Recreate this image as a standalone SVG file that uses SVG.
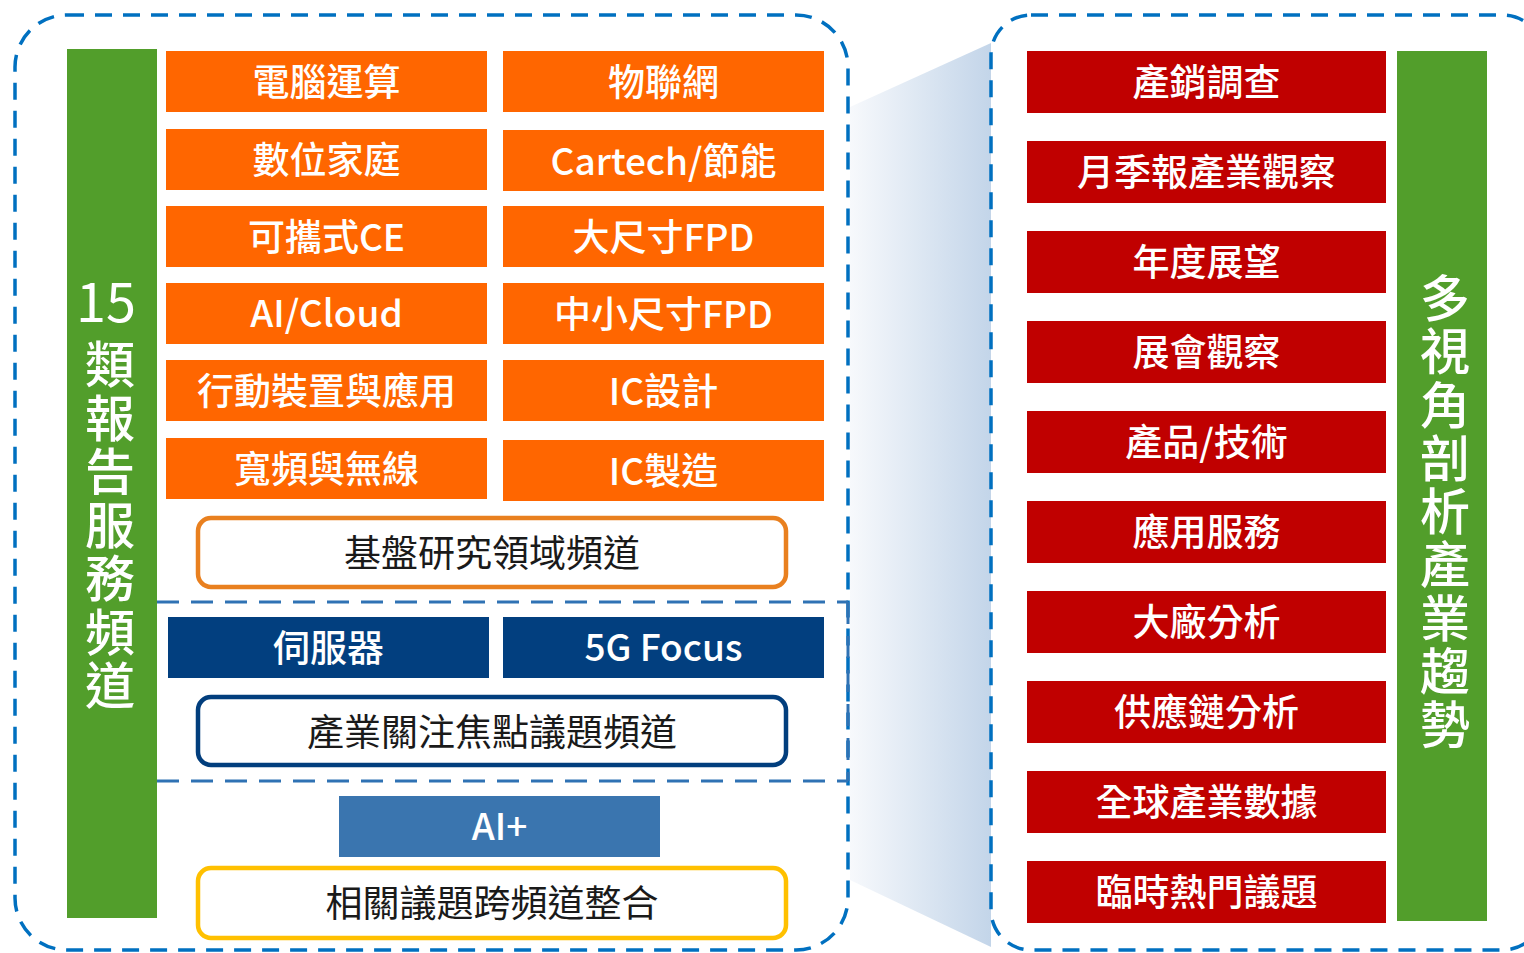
<svg xmlns="http://www.w3.org/2000/svg" width="1524" height="953" viewBox="0 0 1524 953">
<defs>
<linearGradient id="zoomGrad" x1="0" y1="0" x2="1" y2="0">
<stop offset="0" stop-color="#F7F9FC"/>
<stop offset="1" stop-color="#C3D5E9"/>
</linearGradient>
<style>
.t{font-family:"Noto Sans CJK TC","Noto Sans",sans-serif;text-anchor:middle}
.w{fill:#FFFFFF;font-size:37px;font-weight:500}
.k{fill:#1A1A1A;font-size:37px;font-weight:400}
.v{fill:#FFFFFF;font-size:50px;font-weight:500;font-family:"Noto Sans CJK TC","Noto Sans",sans-serif}
.vert{writing-mode:vertical-rl;text-anchor:start}
.org{fill:#FF6600}
.red{fill:#C00000}
.navy{fill:#023F7F}
.mid{fill:#3A75AF}
.grn{fill:#529E2B}
.frame{fill:none;stroke:#0070C0;stroke-width:3.5;stroke-dasharray:17 11}
.inner{fill:none;stroke:#2F72B4;stroke-width:3;stroke-dasharray:22 12}
.ch{fill:#FFFFFF;stroke-width:4.5}
</style>
</defs>
<rect width="1524" height="953" fill="#FFFFFF"/>

<g id="connectors">
<polygon id="zoom-link" points="850,107 991,43 991,947 850,880" fill="url(#zoomGrad)"/>
</g>

<g id="left-frame">
<rect class="frame" x="15" y="15" width="833" height="935" rx="52" ry="52"/>
</g>
<g id="right-frame">
<rect class="frame" x="991" y="15" width="552" height="935" rx="40" ry="40"/>
</g>

<g id="left-title">
<rect class="grn" x="67" y="49" width="90" height="869"/>
<text class="t v" x="106" y="322" style="font-weight:400;font-size:54px">15</text>
<text class="v vert" x="110" y="339" letter-spacing="3.5">類報告服務頻道</text>
</g>

<g id="n-computing"><rect class="org" x="166" y="51" width="321" height="61"/><text class="t w" x="326.5" y="95.5">電腦運算</text></g>
<g id="n-iot"><rect class="org" x="503" y="51" width="321" height="61"/><text class="t w" x="663.5" y="95.5">物聯網</text></g>
<g id="n-digitalhome"><rect class="org" x="166" y="129" width="321" height="61"/><text class="t w" x="326.5" y="173.5">數位家庭</text></g>
<g id="n-cartech"><rect class="org" x="503" y="130" width="321" height="61"/><text class="t w" x="663.5" y="174.5">Cartech/節能</text></g>
<g id="n-portable"><rect class="org" x="166" y="206" width="321" height="61"/><text class="t w" x="326.5" y="250.5">可攜式CE</text></g>
<g id="n-largefpd"><rect class="org" x="503" y="206" width="321" height="61"/><text class="t w" x="663.5" y="250.5">大尺寸FPD</text></g>
<g id="n-aicloud"><rect class="org" x="166" y="283" width="321" height="61"/><text class="t w" x="326.5" y="327">AI/Cloud</text></g>
<g id="n-smallfpd"><rect class="org" x="503" y="283" width="321" height="61"/><text class="t w" x="663.5" y="327.5">中小尺寸FPD</text></g>
<g id="n-mobile"><rect class="org" x="166" y="360" width="321" height="61"/><text class="t w" x="326.5" y="404.5">行動裝置與應用</text></g>
<g id="n-icdesign"><rect class="org" x="503" y="360" width="321" height="61"/><text class="t w" x="663.5" y="404.5">IC設計</text></g>
<g id="n-broadband"><rect class="org" x="166" y="438" width="321" height="61"/><text class="t w" x="326.5" y="482.5">寬頻與無線</text></g>
<g id="n-icmfg"><rect class="org" x="503" y="440" width="321" height="61"/><text class="t w" x="663.5" y="484.5">IC製造</text></g>

<g id="n-base-channel"><rect class="ch" x="198" y="518" width="588" height="69" rx="13" stroke="#E9801F"/><text class="t k" x="492" y="566.5">基盤研究領域頻道</text></g>

<g id="focus-section">
<path class="inner" d="M157,602 H848"/>
<path class="inner" d="M848,602 V781"/>
<path class="inner" d="M157,781 H848"/>
</g>
<g id="n-server"><rect class="navy" x="168" y="617" width="321" height="61"/><text class="t w" x="328.5" y="661.5">伺服器</text></g>
<g id="n-5g"><rect class="navy" x="503" y="617" width="321" height="61"/><text class="t w" x="663.5" y="661">5G Focus</text></g>
<g id="n-focus-channel"><rect class="ch" x="198" y="697" width="588" height="68" rx="13" stroke="#023E7D"/><text class="t k" x="492" y="745.5">產業關注焦點議題頻道</text></g>

<g id="n-aiplus"><rect class="mid" x="339" y="796" width="321" height="61"/><text class="t w" x="499.5" y="839.5">AI+</text></g>
<g id="n-cross-channel"><rect class="ch" x="198" y="868" width="588" height="70" rx="13" stroke="#FFC000"/><text class="t k" x="492" y="917">相關議題跨頻道整合</text></g>

<g id="n-r1"><rect class="red" x="1027" y="51" width="359" height="62"/><text class="t w" x="1206.5" y="96">產銷調查</text></g>
<g id="n-r2"><rect class="red" x="1027" y="141" width="359" height="62"/><text class="t w" x="1206.5" y="186">月季報產業觀察</text></g>
<g id="n-r3"><rect class="red" x="1027" y="231" width="359" height="62"/><text class="t w" x="1206.5" y="276">年度展望</text></g>
<g id="n-r4"><rect class="red" x="1027" y="321" width="359" height="62"/><text class="t w" x="1206.5" y="366">展會觀察</text></g>
<g id="n-r5"><rect class="red" x="1027" y="411" width="359" height="62"/><text class="t w" x="1206.5" y="456">產品/技術</text></g>
<g id="n-r6"><rect class="red" x="1027" y="501" width="359" height="62"/><text class="t w" x="1206.5" y="546">應用服務</text></g>
<g id="n-r7"><rect class="red" x="1027" y="591" width="359" height="62"/><text class="t w" x="1206.5" y="636">大廠分析</text></g>
<g id="n-r8"><rect class="red" x="1027" y="681" width="359" height="62"/><text class="t w" x="1206.5" y="726">供應鏈分析</text></g>
<g id="n-r9"><rect class="red" x="1027" y="771" width="359" height="62"/><text class="t w" x="1206.5" y="816">全球產業數據</text></g>
<g id="n-r10"><rect class="red" x="1027" y="861" width="359" height="62"/><text class="t w" x="1206.5" y="906">臨時熱門議題</text></g>

<g id="right-title">
<rect class="grn" x="1397" y="51" width="90" height="870"/>
<text class="v vert" x="1445" y="273" letter-spacing="3.3">多視角剖析產業趨勢</text>
</g>
</svg>
